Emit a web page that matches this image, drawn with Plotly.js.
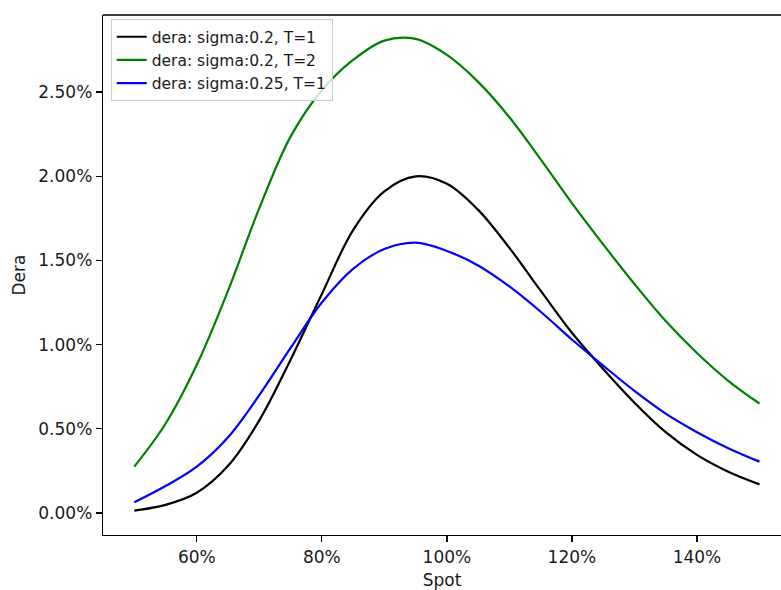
<!DOCTYPE html>
<html>
<head>
<meta charset="utf-8">
<script src="https://cdn.plot.ly/plotly-3.0.1.min.js"></script>
<style>
html, body { margin: 0; padding: 0; background: #fff; overflow: hidden; }
#chart { width: 781px; height: 590px; }
</style>
</head>
<body>
<div id="chart"></div>
<script>
// Spot levels (fraction of 100%)
const spot = [0.50, 0.55, 0.60, 0.65, 0.70, 0.75, 0.80, 0.85, 0.90, 0.95, 1.00,
              1.05, 1.10, 1.15, 1.20, 1.25, 1.30, 1.35, 1.40, 1.45, 1.50];

// Dera values, in percent
const deraSigma02T1 = [0.014, 0.048, 0.12, 0.28, 0.55, 0.91, 1.30, 1.68, 1.91, 1.999, 1.955,
                       1.80, 1.574, 1.32, 1.07, 0.855, 0.655, 0.48, 0.345, 0.245, 0.17];
const deraSigma02T2 = [0.275, 0.53, 0.88, 1.32, 1.81, 2.235, 2.51, 2.69, 2.805, 2.815, 2.72,
                       2.56, 2.35, 2.10, 1.84, 1.595, 1.36, 1.14, 0.95, 0.785, 0.65];
const deraSigma025T1 = [0.0635, 0.16, 0.275, 0.45, 0.70, 0.98, 1.25, 1.45, 1.567, 1.605, 1.556,
                        1.47, 1.345, 1.195, 1.03, 0.875, 0.725, 0.59, 0.48, 0.385, 0.305];

const seriesNames = ["dera: sigma:0.2, T=1", "dera: sigma:0.2, T=2", "dera: sigma:0.25, T=1"];
const seriesColors = ["#000000", "#008000", "#0000ff"];
const seriesValues = [deraSigma02T1, deraSigma02T2, deraSigma025T1];

const traces = seriesValues.map((vals, i) => ({
  type: "scatter",
  mode: "lines",
  x: spot,
  y: vals.map(v => v / 100),
  name: seriesNames[i],
  line: { color: seriesColors[i], width: 2.2, shape: "spline", smoothing: 1 },
  hoverinfo: "skip"
}));

const font = { family: "DejaVu Sans, sans-serif", size: 17, color: "#1a1a1a" };

const layout = {
  width: 781,
  height: 590,
  margin: { l: 103, r: 0, t: 15, b: 55, pad: 0 },
  paper_bgcolor: "#ffffff",
  plot_bgcolor: "#ffffff",
  font: font,
  showlegend: true,
  legend: {
    x: 0.0114, y: 0.992, xanchor: "left", yanchor: "top",
    bgcolor: "rgba(255,255,255,0.8)",
    bordercolor: "#cccccc", borderwidth: 1,
    font: { family: "DejaVu Sans, sans-serif", size: 15.5, color: "#1a1a1a" },
    traceorder: "normal"
  },
  xaxis: {
    range: [0.45, 1.5344],
    tickmode: "linear", tick0: 0, dtick: 0.2,
    tickformat: ".0%",
    ticks: "outside", ticklen: 6, tickwidth: 1.3, tickcolor: "#000",
    showline: true, linecolor: "#000", linewidth: 1.3, mirror: false,
    showgrid: false, zeroline: false,
    title: { text: "Spot", font: font, standoff: 10 }
  },
  yaxis: {
    range: [-0.001306, 0.02957],
    tickmode: "linear", tick0: 0, dtick: 0.005,
    tickformat: ".2%",
    ticks: "outside", ticklen: 6, tickwidth: 1.3, tickcolor: "#000",
    showline: true, linecolor: "#000", linewidth: 1.3, mirror: false,
    showgrid: false, zeroline: false,
    title: { text: "Dera", font: font, standoff: 8 }
  },
  shapes: [{
    type: "line", xref: "paper", yref: "paper",
    x0: 0, x1: 1, y0: 1, y1: 1,
    line: { color: "#000", width: 1.3 }
  }]
};

Plotly.newPlot("chart", traces, layout, { staticPlot: true, displayModeBar: false });
</script>
</body>
</html>
